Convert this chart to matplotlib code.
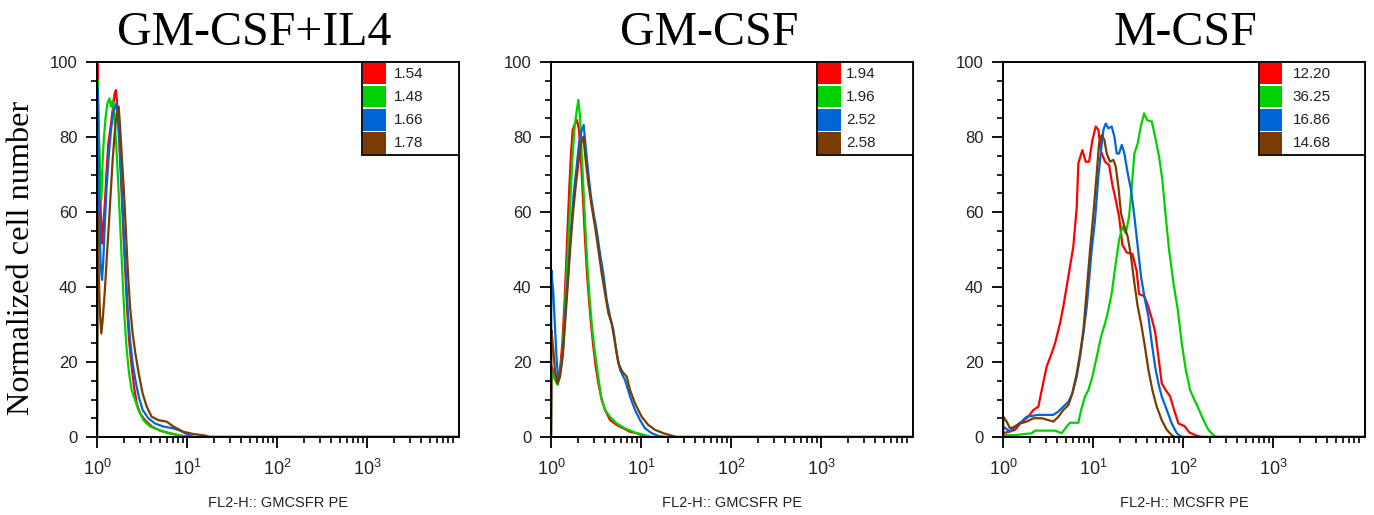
import numpy as np
import matplotlib.pyplot as plt
from matplotlib.patches import Rectangle
from matplotlib.ticker import MultipleLocator, FixedLocator, NullFormatter

plt.rcParams['mathtext.fontset'] = 'custom'
plt.rcParams['mathtext.rm'] = 'Liberation Sans'
plt.rcParams['mathtext.it'] = 'Liberation Sans'
plt.rcParams['font.family'] = 'Liberation Sans'

# x values are log10 of fluorescence (decades), y is normalized cell number
titles = ['GM-CSF+IL4', 'GM-CSF', 'M-CSF']
xlabels = ['FL2-H:: GMCSFR PE', 'FL2-H:: GMCSFR PE', 'FL2-H:: MCSFR PE']
colors = ['#FF0000', '#00D200', '#0066D6', '#7A3C00']
legend_vals = [['1.54', '1.48', '1.66', '1.78'],
               ['1.94', '1.96', '2.52', '2.58'],
               ['12.20', '36.25', '16.86', '14.68']]

# panel 1: GM-CSF+IL4
p1_red_x = [0.0, 0.004, 0.015, 0.026, 0.041, 0.056, 0.07, 0.089, 0.107, 0.126, 0.152, 0.174, 0.196, 0.211, 0.226,
            0.248, 0.27, 0.293, 0.315, 0.337, 0.359, 0.385, 0.411, 0.441, 0.478, 0.533, 0.607, 0.7, 0.811, 0.922,
            1.033, 4.0]
p1_red_y = [0, 99.6, 87.2, 73.9, 60.5, 51.6, 56.1, 63.2, 71.2, 78.3, 82.8, 87.2, 91.6, 92.5, 88.1,
            78.3, 66.8, 54.3, 43.6, 33.0, 25.0, 18.8, 13.4, 9.0, 6.3, 4.5, 2.8, 1.7, 1.0, 0.4,
            0, 0]
p1_green_x = [0.0, 0.004, 0.019, 0.033, 0.048, 0.063, 0.078, 0.096, 0.115, 0.137, 0.156, 0.174, 0.196, 0.219,
              0.241, 0.263, 0.285, 0.307, 0.33, 0.356, 0.385, 0.422, 0.459, 0.515, 0.589, 0.681, 0.793, 0.922,
              0.996, 4.0]
p1_green_y = [0, 95.2, 82.8, 71.2, 63.2, 73.9, 80.1, 85.4, 88.9, 90.3, 88.1, 89.8, 84.5, 75.6,
              65.0, 53.4, 41.9, 31.2, 23.2, 17.0, 12.5, 9.9, 7.2, 4.5, 2.8, 1.9, 1.0, 0.4,
              0, 0]
p1_blue_x = [0.0, 0.004, 0.015, 0.026, 0.041, 0.056, 0.07, 0.089, 0.107, 0.13, 0.152, 0.174, 0.2, 0.219, 0.237,
             0.256, 0.278, 0.3, 0.322, 0.344, 0.367, 0.396, 0.426, 0.463, 0.507, 0.57, 0.644, 0.737, 0.848,
             0.922, 0.996, 1.07, 4.0]
p1_blue_y = [0, 93.4, 78.3, 60.5, 45.4, 41.9, 47.2, 57.9, 66.8, 74.8, 81.0, 85.4, 88.1, 89.0, 84.5,
             75.6, 65.0, 53.4, 42.8, 33.0, 25.9, 19.6, 15.2, 10.8, 7.2, 5.0, 3.6, 2.8, 2.3,
             1.7, 0.8, 0, 0]
p1_brown_x = [0.0, 0.007, 0.019, 0.033, 0.048, 0.063, 0.085, 0.107, 0.13, 0.152, 0.174, 0.196, 0.219, 0.241,
              0.256, 0.278, 0.3, 0.322, 0.344, 0.367, 0.396, 0.426, 0.463, 0.507, 0.552, 0.607, 0.681, 0.774,
              0.848, 0.959, 1.07, 1.2, 1.256, 4.0]
p1_brown_y = [0, 59.6, 43.6, 33.0, 27.6, 31.2, 38.3, 47.2, 56.1, 65.0, 73.9, 81.0, 86.3, 88.1,
              82.8, 73.9, 65.0, 54.3, 43.6, 34.8, 27.6, 22.3, 17.0, 11.6, 8.1, 5.4, 4.5, 4.1,
              2.8, 1.4, 0.8, 0.4, 0, 0]

# panel 2: GM-CSF
p2_red_x = [0.0, 0.007, 0.044, 0.074, 0.1, 0.126, 0.148, 0.167, 0.185, 0.204, 0.222, 0.241, 0.267, 0.289, 0.311,
            0.333, 0.356, 0.378, 0.4, 0.422, 0.444, 0.47, 0.496, 0.526, 0.563, 0.6, 0.656, 0.73, 0.804, 0.878,
            0.952, 1.007, 1.063, 4.0]
p2_red_y = [0, 18.8, 16.1, 14.8, 17.9, 25.0, 34.8, 45.4, 56.1, 66.8, 75.6, 81.9, 83.6, 84.5, 81.9,
            73.9, 63.2, 52.5, 43.6, 36.5, 30.3, 24.1, 18.8, 14.3, 9.9, 7.2, 4.5, 3.2, 2.3, 1.4,
            1.0, 0.5, 0, 0]
p2_green_x = [0.0, 0.004, 0.044, 0.074, 0.1, 0.126, 0.148, 0.17, 0.193, 0.215, 0.237, 0.259, 0.281, 0.304, 0.322,
              0.341, 0.363, 0.385, 0.407, 0.433, 0.459, 0.489, 0.519, 0.556, 0.6, 0.656, 0.73, 0.822, 0.933,
              1.044, 1.119, 4.0]
p2_green_y = [0, 17.9, 15.2, 13.9, 16.1, 22.3, 31.2, 41.9, 52.5, 63.2, 73.9, 81.9, 86.3, 89.9, 85.4,
              75.6, 65.0, 54.3, 44.5, 35.6, 28.5, 22.3, 17.0, 10.8, 7.2, 5.4, 3.6, 2.3, 1.2,
              0.5, 0, 0]
p2_blue_x = [0.0, 0.004, 0.026, 0.044, 0.063, 0.081, 0.107, 0.137, 0.163, 0.193, 0.222, 0.252, 0.281, 0.311, 0.341,
             0.363, 0.385, 0.415, 0.444, 0.474, 0.507, 0.544, 0.581, 0.619, 0.656, 0.693, 0.73, 0.767, 0.822,
             0.878, 0.933, 0.989, 1.044, 1.119, 1.193, 1.267, 4.0]
p2_blue_y = [0, 44.5, 38.3, 29.4, 20.5, 15.2, 17.9, 24.1, 34.8, 44.5, 55.2, 65.0, 71.2, 78.3, 81.9,
             83.2, 77.4, 70.3, 64.1, 59.6, 55.2, 49.0, 43.6, 36.5, 32.1, 28.5, 22.3, 17.9, 15.2,
             10.8, 7.2, 4.5, 2.3, 1.0, 0.3, 0, 0]
p2_brown_x = [0.0, 0.004, 0.026, 0.044, 0.07, 0.1, 0.13, 0.156, 0.185, 0.215, 0.244, 0.274, 0.304, 0.333, 0.359,
              0.385, 0.415, 0.452, 0.489, 0.526, 0.563, 0.6, 0.637, 0.674, 0.711, 0.748, 0.793, 0.841, 0.878,
              0.933, 1.007, 1.081, 1.156, 1.248, 1.322, 1.396, 4.0]
p2_brown_y = [0, 28.5, 23.2, 17.9, 14.3, 16.1, 21.4, 30.3, 40.1, 50.8, 59.6, 66.8, 73.0, 78.3, 80.1,
              73.9, 67.6, 61.4, 56.1, 49.9, 43.6, 38.3, 33.0, 30.3, 25.0, 19.6, 17.4, 16.1, 12.5,
              9.0, 5.4, 3.2, 1.9, 1.0, 0.5, 0, 0]

# panel 3: M-CSF
p3_red_x = [0.0, 0.004, 0.133, 0.189, 0.28, 0.337, 0.393, 0.43, 0.485, 0.54, 0.578, 0.633, 0.67, 0.707, 0.744,
            0.781, 0.819, 0.837, 0.881, 0.919, 0.956, 0.993, 1.03, 1.059, 1.089, 1.133, 1.178, 1.215, 1.252,
            1.289, 1.326, 1.374, 1.437, 1.485, 1.511, 1.567, 1.607, 1.652, 1.689, 1.726, 1.763, 1.807, 1.856,
            1.9, 1.948, 2.015, 2.07, 2.133, 2.21, 4.0]
p3_red_y = [0, 1.0, 1.9, 3.6, 5.4, 7.2, 8.1, 12.5, 18.8, 22.3, 25.0, 30.3, 34.8, 40.1, 45.4,
            50.8, 61.4, 73.0, 76.5, 73.4, 73.4, 79.2, 82.8, 81.9, 76.1, 73.4, 72.5, 67.2, 63.2,
            58.8, 51.2, 49.2, 48.8, 44.1, 38.1, 37.6, 35.2, 31.6, 28.1, 21.4, 14.3, 12.5, 10.8,
            7.2, 3.6, 2.9, 1.2, 0.5, 0, 0]
p3_green_x = [0.0, 0.004, 0.133, 0.319, 0.356, 0.578, 0.652, 0.707, 0.744, 0.837, 0.867, 0.911, 0.948, 0.993,
              1.041, 1.089, 1.133, 1.17, 1.207, 1.252, 1.289, 1.326, 1.363, 1.4, 1.43, 1.459, 1.496, 1.53,
              1.567, 1.6, 1.652, 1.689, 1.733, 1.77, 1.807, 1.844, 1.893, 1.941, 1.985, 2.03, 2.078, 2.126,
              2.178, 2.226, 2.281, 2.337, 2.374, 4.0]
p3_green_y = [0, 0.5, 0.5, 1.0, 1.7, 1.7, 1.0, 2.8, 3.8, 3.8, 7.2, 10.8, 12.5, 16.1,
              21.4, 26.8, 30.3, 33.9, 38.3, 46.3, 52.5, 56.1, 54.3, 58.8, 66.8, 75.6, 78.3, 82.8,
              86.3, 84.5, 84.1, 80.1, 74.8, 68.5, 58.8, 49.9, 41.0, 33.9, 25.0, 17.9, 12.5, 9.9,
              7.2, 4.5, 1.9, 0.5, 0, 0]
p3_blue_x = [0.0, 0.004, 0.078, 0.133, 0.207, 0.263, 0.393, 0.559, 0.615, 0.67, 0.726, 0.77, 0.819, 0.856, 0.893,
             0.93, 0.956, 0.985, 1.022, 1.059, 1.089, 1.115, 1.141, 1.17, 1.207, 1.237, 1.263, 1.289, 1.319,
             1.348, 1.385, 1.422, 1.459, 1.496, 1.533, 1.57, 1.615, 1.652, 1.689, 1.726, 1.763, 1.819, 1.874,
             1.93, 1.967, 2.0, 4.0]
p3_blue_y = [0, 2.8, 1.4, 2.8, 4.1, 5.4, 5.9, 5.9, 6.8, 8.1, 9.4, 11.6, 16.1, 21.4, 27.6,
             34.8, 41.9, 49.9, 57.9, 69.4, 76.5, 81.9, 83.6, 82.3, 82.8, 80.1, 75.6, 75.6, 77.9,
             75.6, 70.3, 65.9, 58.8, 50.8, 42.8, 37.4, 32.1, 25.0, 18.8, 14.3, 10.8, 7.2, 3.6,
             1.0, 0.3, 0, 0]
p3_brown_x = [0.0, 0.004, 0.041, 0.078, 0.133, 0.189, 0.263, 0.337, 0.43, 0.504, 0.559, 0.615, 0.67, 0.726, 0.77,
              0.819, 0.856, 0.893, 0.93, 0.967, 1.004, 1.041, 1.067, 1.096, 1.126, 1.152, 1.189, 1.226, 1.252,
              1.281, 1.311, 1.348, 1.385, 1.422, 1.459, 1.496, 1.533, 1.57, 1.615, 1.659, 1.707, 1.763, 1.819,
              1.874, 1.911, 4.0]
p3_brown_y = [0, 5.4, 4.1, 2.3, 2.8, 3.6, 4.1, 5.0, 5.0, 4.5, 4.1, 5.4, 7.2, 8.5, 11.6,
              17.0, 22.3, 28.5, 39.2, 49.9, 59.6, 70.3, 78.3, 80.5, 79.2, 75.6, 73.4, 73.9, 72.1,
              66.8, 59.6, 56.1, 53.4, 48.1, 41.0, 34.8, 30.3, 25.0, 17.9, 12.5, 8.1, 4.5, 1.9,
              0.5, 0, 0]

series = [
    [(p1_red_x, p1_red_y), (p1_green_x, p1_green_y), (p1_blue_x, p1_blue_y), (p1_brown_x, p1_brown_y)],
    [(p2_red_x, p2_red_y), (p2_green_x, p2_green_y), (p2_blue_x, p2_blue_y), (p2_brown_x, p2_brown_y)],
    [(p3_red_x, p3_red_y), (p3_green_x, p3_green_y), (p3_blue_x, p3_blue_y), (p3_brown_x, p3_brown_y)],
]

fig = plt.figure(figsize=(13.74, 5.15), dpi=100)
lefts = [97 / 1374, 551 / 1374, 1003 / 1374]
title_x = [0.434, 0.438, 0.503]
leg_left = [0.732, 0.735, 0.706]
txt_left = [0.82, 0.815, 0.80]

for i in range(3):
    ax = fig.add_axes([lefts[i], 1 - 437 / 515, 362 / 1374, 375 / 515])
    for (xs, ys), c in zip(series[i], colors):
        ax.plot(np.power(10.0, xs), ys, color=c, lw=1.6)
    ax.set_xscale('log')
    ax.set_xlim(1, 10 ** 4.02)
    ax.set_ylim(0, 100)

    ax.xaxis.set_major_locator(FixedLocator([1, 10, 100, 1000]))
    minors = [m * 10 ** d for d in range(4) for m in range(2, 10)]
    ax.xaxis.set_minor_locator(FixedLocator(minors))
    ax.xaxis.set_minor_formatter(NullFormatter())
    ax.set_xticklabels(['$10^{0}$', '$10^{1}$', '$10^{2}$', '$10^{3}$'], fontsize=13, color='#222222')
    ax.yaxis.set_major_locator(MultipleLocator(20))
    ax.yaxis.set_minor_locator(MultipleLocator(5))
    ax.tick_params(axis='y', labelsize=12, labelcolor='#222222', pad=6)
    ax.tick_params(axis='x', pad=8)
    ax.tick_params(which='major', direction='out', length=8, width=1.3, color='black')
    ax.tick_params(which='minor', direction='out', length=4, width=1.2, color='black')
    for s in ax.spines.values():
        s.set_linewidth(1.4)

    ax.set_title(titles[i], fontsize=34.5, family='Liberation Serif', pad=12, x=title_x[i])
    ax.set_xlabel(xlabels[i], fontsize=10.5, color='#222222', labelpad=12)

    # legend box with colour swatches
    row_h = 0.062
    top = 1.0
    ax.add_patch(Rectangle((leg_left[i], top - 4 * row_h), 1 - leg_left[i], 4 * row_h,
                           transform=ax.transAxes, facecolor='white', edgecolor='black', lw=1.3, zorder=5))
    for k in range(4):
        y0 = top - (k + 1) * row_h
        ax.add_patch(Rectangle((leg_left[i] + 0.003, y0 + 0.003), 0.062, row_h - 0.005,
                               transform=ax.transAxes, facecolor=colors[k], edgecolor='none', zorder=6))
        ax.text(txt_left[i], y0 + row_h / 2, legend_vals[i][k], transform=ax.transAxes,
                fontsize=11, color='#222222', va='center', ha='left', zorder=7)

fig.text(0.016, 0.5, 'Normalized cell number', rotation=90, fontsize=23.3,
         family='Liberation Serif', va='center', ha='center')

fig.savefig('out.png', dpi=100)
